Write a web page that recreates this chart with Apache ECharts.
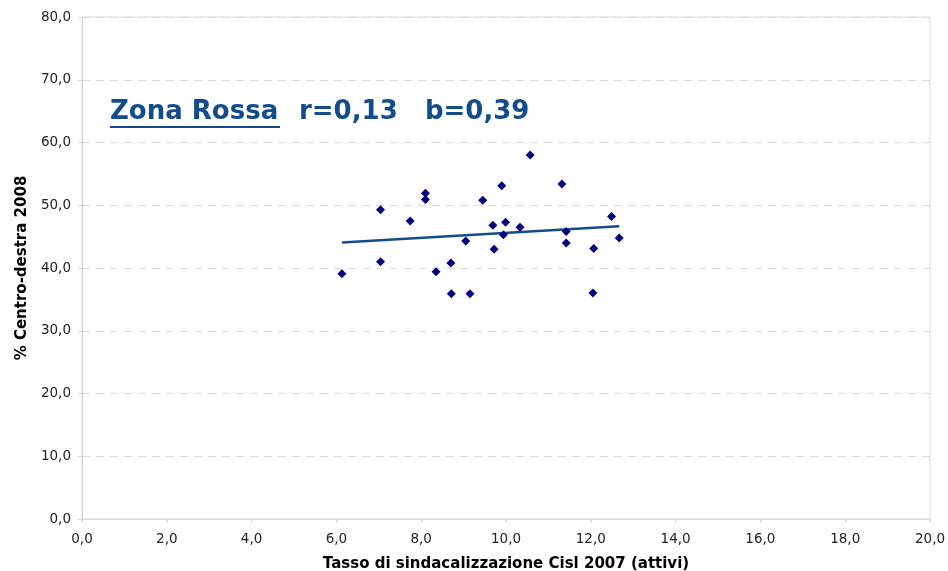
<!DOCTYPE html>
<html>
<head>
<meta charset="utf-8">
<script src="https://cdn.jsdelivr.net/npm/echarts@6/dist/echarts.min.js"></script>
<style>html,body{margin:0;padding:0;background:#fff}#c{width:948px;height:571px}</style>
</head>
<body>
<div id="c"></div>
<script>
// Data
const xValues = [6.13, 7.04, 7.04, 7.74, 8.10, 8.10, 8.35, 8.70, 8.71, 9.05, 9.15, 9.45, 9.69, 9.72, 9.90, 9.99, 9.94, 10.33, 10.57, 11.32, 11.42, 11.42, 12.07, 12.05, 12.49, 12.67];
const yValues = [39.1, 49.3, 41.0, 47.5, 51.9, 50.9, 39.4, 40.8, 35.9, 44.3, 35.9, 50.8, 46.8, 43.0, 53.1, 47.3, 45.3, 46.5, 58.0, 53.4, 45.8, 44.0, 43.1, 36.0, 48.2, 44.8];
const titleName = "Zona Rossa";
const titleStats = "r=0,13   b=0,39";
const xAxisName = "Tasso di sindacalizzazione Cisl 2007 (attivi)";
const yAxisName = "% Centro-destra 2008";

const points = xValues.map((x, i) => [x, yValues[i]]);
// least-squares trend line
const n = xValues.length;
const mx = xValues.reduce((a, b) => a + b, 0) / n;
const my = yValues.reduce((a, b) => a + b, 0) / n;
let sxy = 0, sxx = 0;
for (let i = 0; i < n; i++) { sxy += (xValues[i] - mx) * (yValues[i] - my); sxx += (xValues[i] - mx) ** 2; }
const slope = sxy / sxx, intercept = my - slope * mx;
const xmin = Math.min(...xValues), xmax = Math.max(...xValues);
const trend = [[xmin, intercept + slope * xmin], [xmax, intercept + slope * xmax]];

const fmt = v => v.toFixed(1).replace('.', ',');
const titleStyle = { fontFamily: 'DejaVu Sans', fontWeight: 'bold', fontSize: 26, fill: '#124c8c' };
const chart = echarts.init(document.getElementById('c'), null, { renderer: 'canvas' });
chart.setOption({
  animation: false,
  backgroundColor: '#fff',
  grid: { left: 82, right: 18, top: 17, bottom: 52, outerBoundsMode: 'none', containLabel: false, show: true, borderColor: '#d9d9d9', borderWidth: 1 },
  xAxis: {
    type: 'value', min: 0, max: 20, interval: 2,
    name: xAxisName, nameLocation: 'middle', nameGap: 38,
    nameTextStyle: { fontFamily: 'DejaVu Sans', fontWeight: 'bold', fontSize: 15, color: '#000' },
    axisLine: { show: true, lineStyle: { color: '#d9d9d9' } },
    axisTick: { show: true, length: 4, lineStyle: { color: '#d9d9d9' } },
    axisLabel: { formatter: fmt, fontFamily: 'DejaVu Sans', fontSize: 13.5, color: '#222', margin: 13 },
    splitLine: { show: false }
  },
  yAxis: {
    type: 'value', min: 0, max: 80, interval: 10,
    name: yAxisName, nameLocation: 'middle', nameGap: 38,
    nameTextStyle: { fontFamily: 'DejaVu Sans', fontWeight: 'bold', fontSize: 15, color: '#000' },
    axisLine: { show: true, lineStyle: { color: '#d9d9d9' } },
    axisTick: { show: true, length: 4, lineStyle: { color: '#d9d9d9' } },
    axisLabel: { formatter: fmt, fontFamily: 'DejaVu Sans', fontSize: 13.5, color: '#222', margin: 11 },
    splitLine: { show: true, lineStyle: { color: '#d9d9d9', type: [8, 6] } }
  },
  graphic: [
    { type: 'text', left: 110, top: 99, style: Object.assign({ text: titleName }, titleStyle) },
    { type: 'rect', left: 110, top: 126, shape: { width: 170, height: 2 }, style: { fill: '#124c8c' } },
    { type: 'text', left: 299, top: 99, style: Object.assign({ text: titleStats }, titleStyle) }
  ],
  series: [
    { type: 'scatter', data: points, symbol: 'diamond', symbolSize: 9, itemStyle: { color: '#000080', opacity: 1 }, z: 3 },
    { type: 'line', data: trend, symbol: 'none', lineStyle: { color: '#124c8c', width: 2.5 }, z: 2 }
  ]
});
</script>
</body>
</html>
